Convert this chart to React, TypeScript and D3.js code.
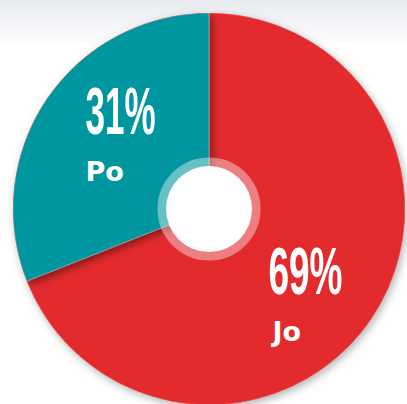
import React from "react";
import * as d3 from "d3";

const categories = ["Jo", "Po"];
const values = [69, 31];
const percentLabels = ["69%", "31%"];
const colors = ["#e32a2c", "#06969f"];

const W = 407;
const H = 404;
const CX = 209;
const CY = 209;
const R = 196;

export default function App() {
  const pie = d3.pie<number>().sort(null).startAngle(0).endAngle(2 * Math.PI);
  const arcs = pie(values);
  const arc = d3.arc<d3.PieArcDatum<number>>().innerRadius(0).outerRadius(R);
  const labelR = 122;
  const nudge = (6.5 * Math.PI) / 180;
  const pctWidth = [74, 70];

  return (
    <svg width={W} height={H} style={{ display: "block", position: "absolute", left: 0, top: 0 }}>
      <defs>
        <linearGradient id="bg" x1="0" y1="0" x2="0" y2="1">
          <stop offset="0" stopColor="#e8ebef" />
          <stop offset="0.12" stopColor="#ffffff" />
          <stop offset="1" stopColor="#ffffff" />
        </linearGradient>
        <filter id="pieShadow" x="-20%" y="-20%" width="140%" height="140%">
          <feDropShadow dx="2" dy="3" stdDeviation="4" floodColor="#000" floodOpacity="0.3" />
        </filter>
        <filter id="sliceShadow" x="-30%" y="-30%" width="160%" height="160%">
          <feDropShadow dx="3" dy="3" stdDeviation="4" floodColor="#000" floodOpacity="0.45" />
        </filter>
        <clipPath id="pieClip">
          <circle cx={CX} cy={CY} r={R} />
        </clipPath>
      </defs>
      <rect x={0} y={0} width={W} height={H} fill="url(#bg)" />
      <circle cx={CX} cy={CY} r={R} fill={colors[0]} filter="url(#pieShadow)" />
      <g clipPath="url(#pieClip)">
        <g transform={`translate(${CX},${CY})`}>
          {arcs.map((a, i) => (
            <path
              key={categories[i]}
              d={arc(a) || ""}
              fill={colors[i]}
              filter={i === 1 ? "url(#sliceShadow)" : undefined}
              stroke="rgba(255,255,255,0.35)"
              strokeWidth={0.8}
            />
          ))}
        </g>
      </g>
      <circle cx={CX} cy={CY} r={47} fill="none" stroke="rgba(255,255,255,0.4)" strokeWidth={9} />
      <circle cx={CX} cy={CY} r={43} fill="#ffffff" />
      {arcs.map((a, i) => {
        const mid = (a.startAngle + a.endAngle) / 2 + nudge;
        const gx = CX + labelR * Math.sin(mid) + 4;
        const gy = CY - labelR * Math.cos(mid) + 6;
        const left = gx - pctWidth[i] / 2;
        return (
          <g key={"l" + categories[i]}>
            <text
              x={left}
              y={gy - 1}
              fill="#fff"
              fontFamily="'Liberation Sans', Arial, sans-serif"
              fontWeight="bold"
              fontSize={66}
              textLength={pctWidth[i]}
              lengthAdjust="spacingAndGlyphs"
            >
              {percentLabels[i]}
            </text>
            <text
              x={left + (i === 0 ? 4 : 0)}
              y={gy + 46}
              fill="#fff"
              fontFamily="'DejaVu Sans', sans-serif"
              fontWeight="bold"
              fontSize={27}
            >
              {categories[i]}
            </text>
          </g>
        );
      })}
    </svg>
  );
}
